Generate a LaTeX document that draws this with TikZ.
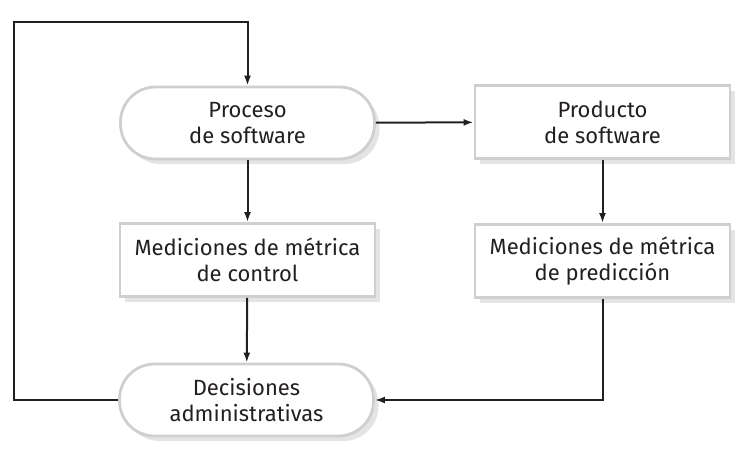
\documentclass[tikz,border=0pt]{standalone}
\usepackage{fontspec}
\setmainfont{Fira Sans}
\usetikzlibrary{arrows.meta,shadows}
\definecolor{boxline}{HTML}{CFCFCF}
\definecolor{shade}{HTML}{E4E4E4}
\definecolor{txt}{HTML}{231F20}
\begin{document}
\begin{tikzpicture}[x=1pt,y=-1pt,
  basebox/.style={draw=boxline, line width=2.8pt, fill=white, text=txt,
    font=\fontsize{22}{26}\selectfont, align=center, inner sep=0pt,
    drop shadow={shadow xshift=5pt, shadow yshift=-5pt, fill=shade, opacity=1}},
  sqbox/.style={basebox, minimum width=255pt, minimum height=73pt},
  pill/.style={basebox, rounded corners=35pt, minimum width=254pt, minimum height=72pt},
  conn/.style={draw=txt, line width=2pt, -{Latex[length=10pt,width=7pt]}}
]
\useasboundingbox (0,0) rectangle (754,460);
\node[pill]  (proc) at (247.5,123) {Proceso\\de software};
\node[sqbox] (ctrl) at (247.5,260) {Mediciones de métrica\\de control};
\node[sqbox] (prod) at (602.5,122) {Producto\\de software};
\node[sqbox] (pred) at (602.5,261) {Mediciones de métrica\\de predicción};
\node[pill]  (dec)  at (246.5,400) {Decisiones\\administrativas};
\coordinate (tl) at (14,22);
\draw[conn] (proc) -- (prod);
\draw[conn] (proc) -- (ctrl);
\draw[conn] (ctrl) -- (dec);
\draw[conn] (prod) -- (pred);
\draw[conn] (pred.south) |- (dec.east);
\draw[conn] (dec.west) -| (tl) -| (proc.north);
\end{tikzpicture}
\end{document}
